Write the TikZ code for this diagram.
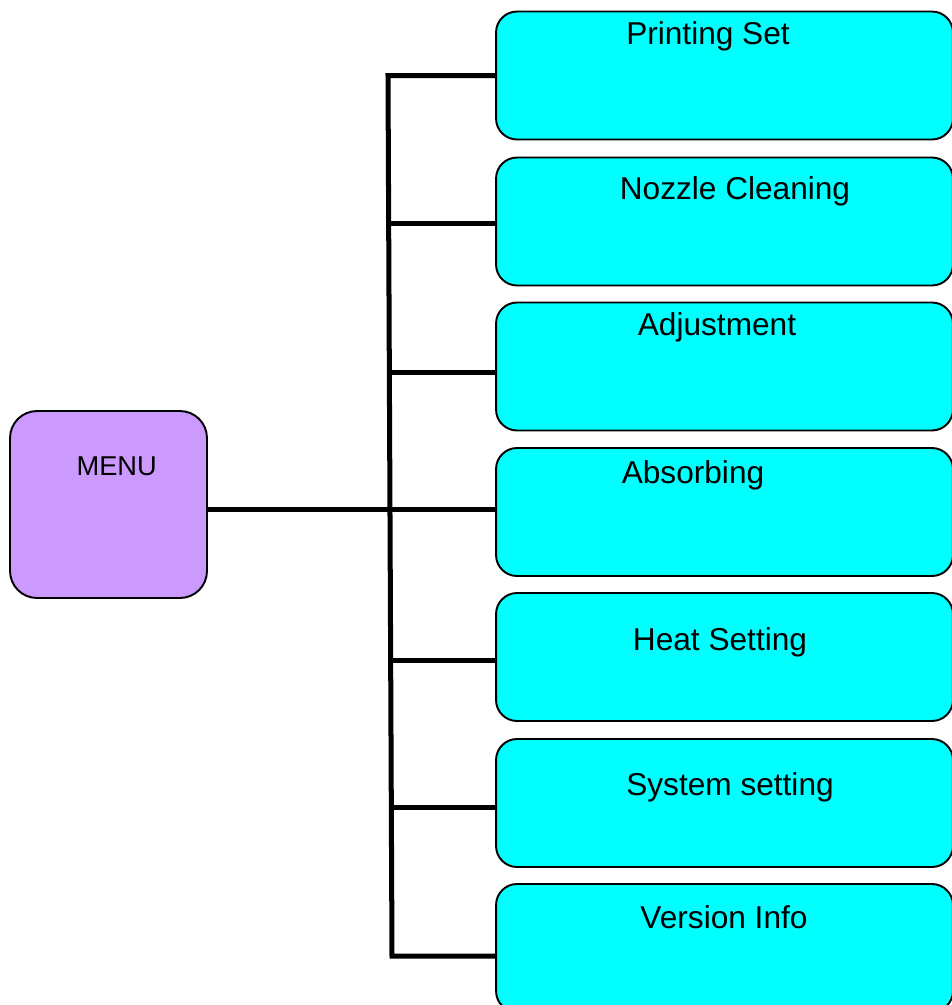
\documentclass[tikz,border=0pt]{standalone}
\usepackage{fontspec}
\setmainfont{Liberation Sans}
\usepackage{tikz}

\definecolor{menupurple}{HTML}{CC99FF}
\definecolor{itemcyan}{HTML}{00FFFF}

\begin{document}
\begin{tikzpicture}[x=0.02cm,y=-0.02cm,
	menubox/.style={draw,line width=1.1pt,fill=menupurple,rounded corners=0.54cm,minimum width=3.94cm,minimum height=3.74cm,inner sep=0pt},
	itembox/.style={draw,line width=1.1pt,fill=itemcyan,rounded corners=0.42cm,minimum width=9.14cm,minimum height=2.56cm,inner sep=0pt},
	itemtext/.style={anchor=base,inner sep=0pt,font=\fontsize{18pt}{21pt}\selectfont},
	menutext/.style={anchor=base,inner sep=0pt,font=\fontsize{15.5pt}{18pt}\selectfont},
	wire/.style={line width=2.85pt}]
				\useasboundingbox (0,0) rectangle (952,1005);
				\clip (0,0) rectangle (952,1005);
				
				\node (m) at (108.5,504.5) [menubox] {};
				\node (b1) at (724.5,75.5) [itembox] {};
				\node (b2) at (724.5,221.5) [itembox] {};
				\node (b3) at (724.5,366.5) [itembox] {};
				\node (b4) at (724.5,512) [itembox] {};
				\node (b5) at (724.5,657) [itembox] {};
				\node (b6) at (724.5,803) [itembox] {};
				\node (b7) at (724.5,948) [itembox] {};
				
				\node (mt) at (116.7,475.7) [menutext] {MENU};
				\node (t1) at (708,44) [itemtext] {Printing Set};
				\node (t2) at (735,199) [itemtext] {Nozzle Cleaning};
				\node (t3) at (717,335) [itemtext] {Adjustment};
				\node (t4) at (693,483) [itemtext] {Absorbing};
				\node (t5) at (720,650) [itemtext] {Heat Setting};
				\node (t6) at (730,795) [itemtext] {System setting};
				\node (t7) at (724,928) [itemtext] {Version Info};
				
				\coordinate (j1) at (388,75.5);
				\coordinate (j2) at (388.7,223);
				\coordinate (j3) at (389.3,372);
				\coordinate (j4) at (390,509);
				\coordinate (j5) at (390.7,660);
				\coordinate (j6) at (391.3,807);
				\coordinate (j7) at (392,956);
				
				\draw[wire] (j1 -| b1.west) -- (j1) -- (j7) -- (j7 -| b7.west);
				\draw[wire] (j2) -- (j2 -| b2.west);
				\draw[wire] (j3) -- (j3 -| b3.west);
				\draw[wire] (m.east |- j4) -- (j4 -| b4.west);
				\draw[wire] (j5) -- (j5 -| b5.west);
				\draw[wire] (j6) -- (j6 -| b6.west);
			\end{tikzpicture}
\end{document}
